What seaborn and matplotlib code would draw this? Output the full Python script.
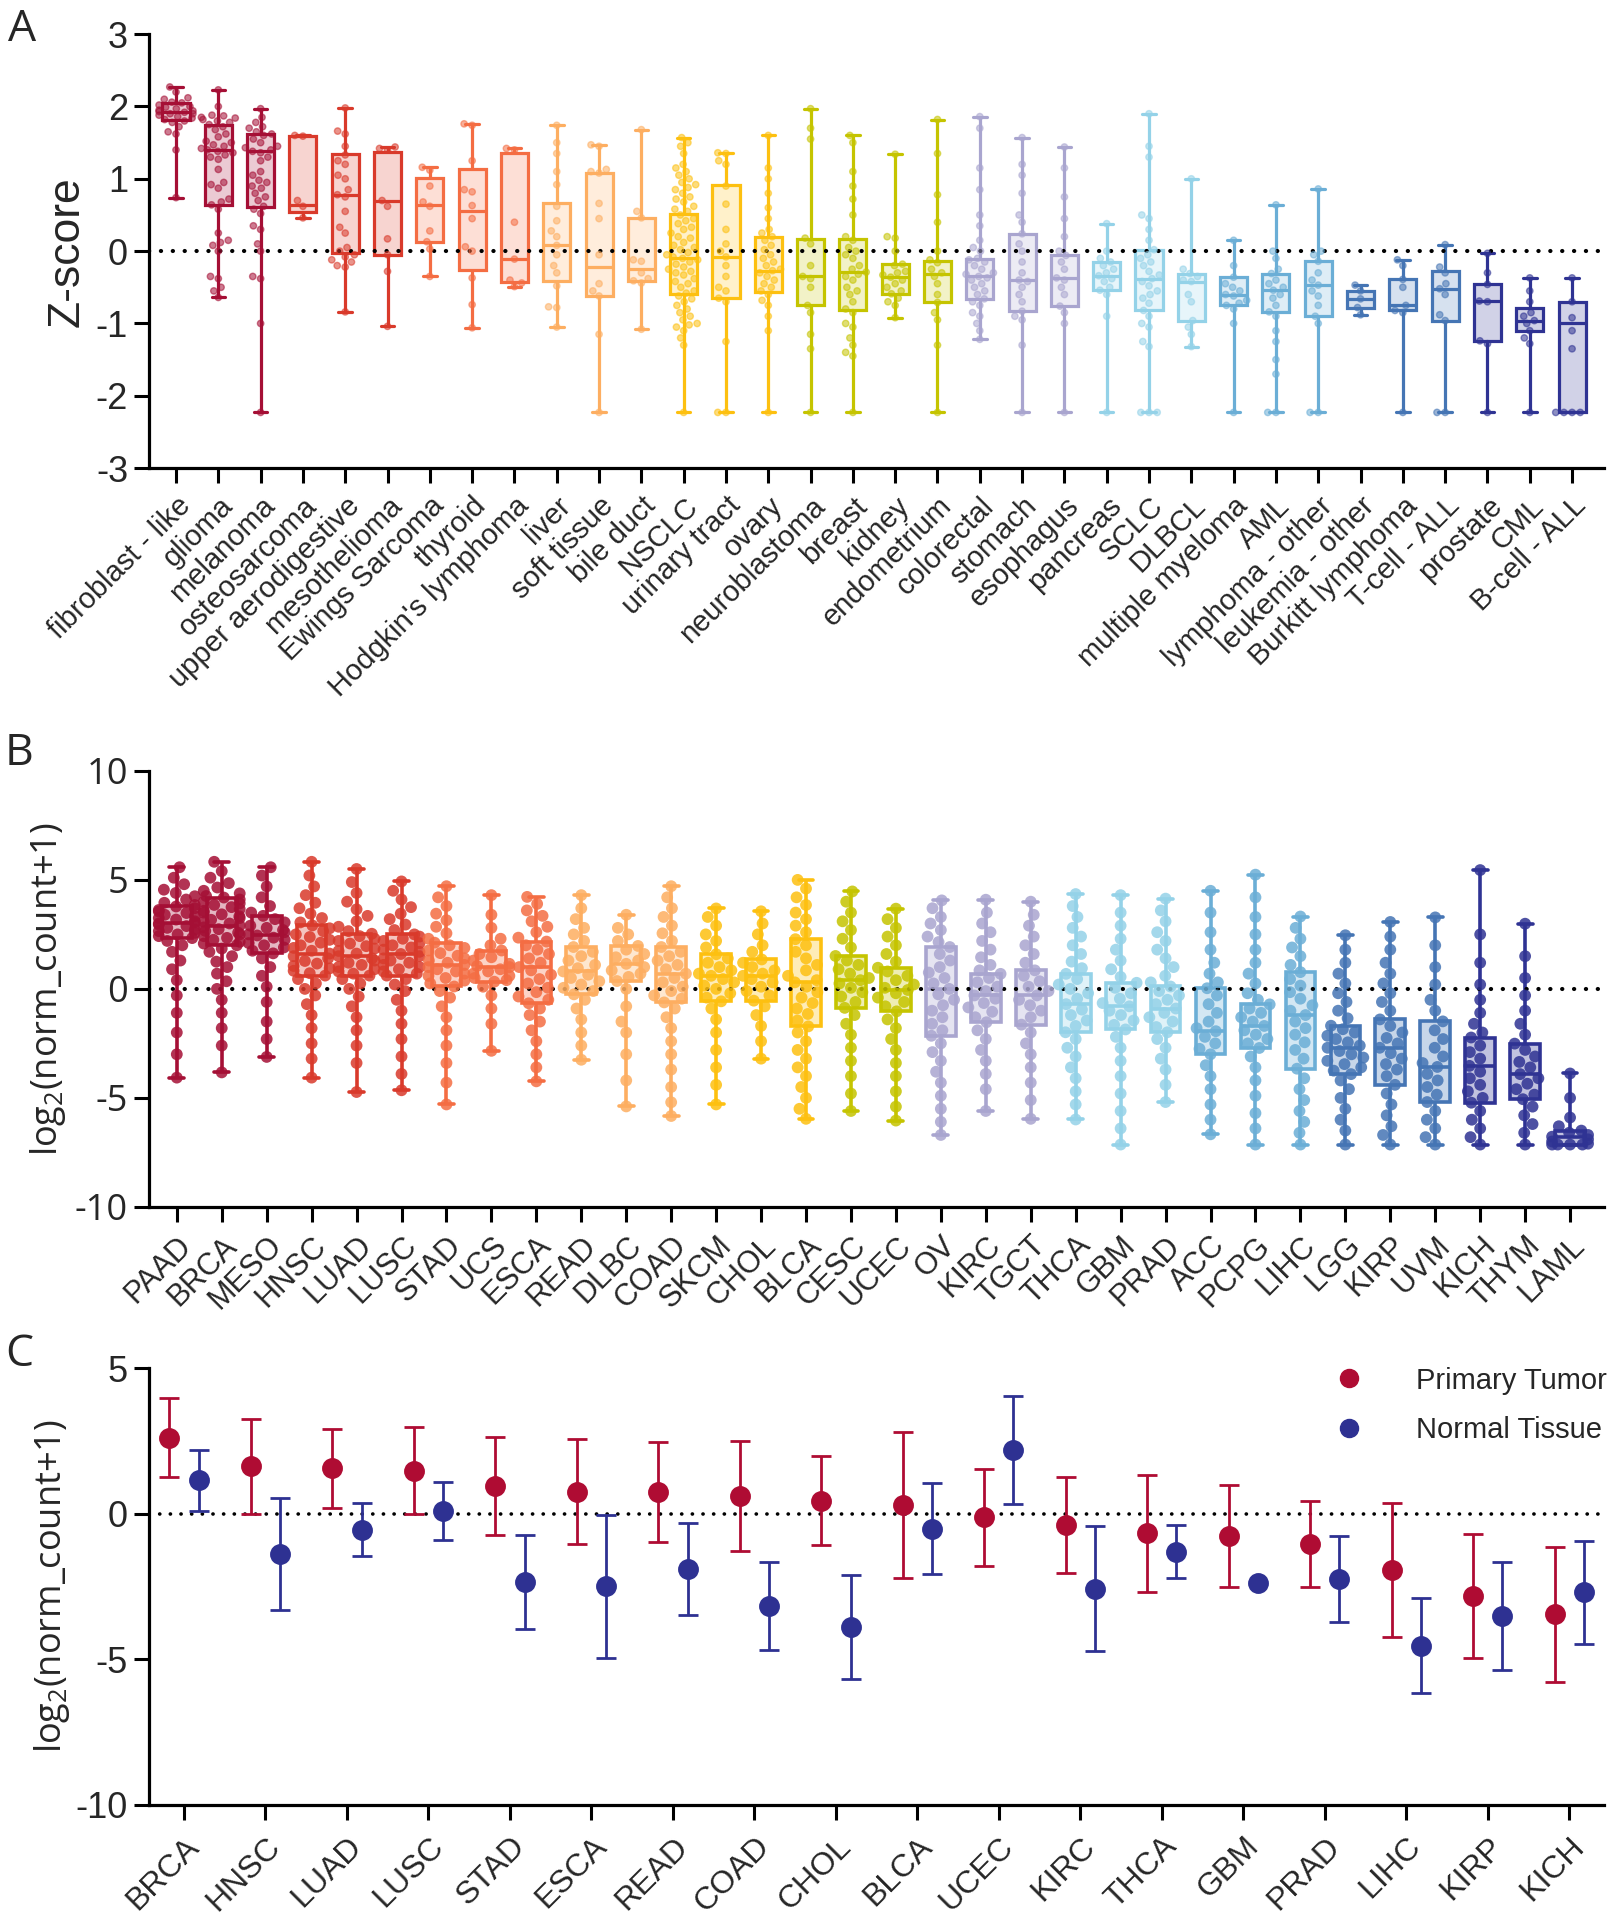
import warnings
warnings.filterwarnings("ignore")
import numpy as np
import pandas as pd
import matplotlib
matplotlib.use("Agg")
import matplotlib.pyplot as plt
import seaborn as sns
from matplotlib.colors import to_rgb
from matplotlib.lines import Line2D

sns.set_theme(style="white")
plt.rcParams['font.family'] = ['Liberation Sans', 'DejaVu Sans']
plt.rcParams['axes.unicode_minus'] = False
plt.rcParams['mathtext.fontset'] = 'custom'
plt.rcParams['mathtext.rm'] = 'Open Sans'
plt.rcParams['mathtext.it'] = 'Open Sans:italic'

# ---------------- Panel A data ----------------
A_cats = ["fibroblast - like", "glioma", "melanoma", "osteosarcoma", "upper aerodigestive",
          "mesothelioma", "Ewings Sarcoma", "thyroid", "Hodgkin's lymphoma", "liver",
          "soft tissue", "bile duct", "NSCLC", "urinary tract", "ovary", "neuroblastoma",
          "breast", "kidney", "endometrium", "colorectal", "stomach", "esophagus",
          "pancreas", "SCLC", "DLBCL", "multiple myeloma", "AML", "lymphoma - other",
          "leukemia - other", "Burkitt lymphoma", "T-cell - ALL", "prostate", "CML", "B-cell - ALL"]
A_min = [0.74, -0.64, -2.23, 0.46, -0.84, -1.04, -0.35, -1.06, -0.49, -1.05, -2.23, -1.08,
         -2.23, -2.23, -2.23, -2.23, -2.23, -0.92, -2.23, -1.22, -2.23, -2.23, -2.23, -2.23,
         -1.32, -2.23, -2.23, -2.23, -0.88, -2.23, -2.23, -2.23, -2.23, -2.23]
A_q1 = [1.82, 0.64, 0.61, 0.54, -0.03, -0.05, 0.13, -0.26, -0.43, -0.41, -0.62, -0.41,
        -0.59, -0.65, -0.56, -0.75, -0.81, -0.59, -0.71, -0.66, -0.83, -0.76, -0.54, -0.82,
        -0.96, -0.75, -0.84, -0.90, -0.78, -0.82, -0.96, -1.24, -1.11, -2.23]
A_med = [1.93, 1.40, 1.39, 0.64, 0.78, 0.70, 0.64, 0.55, -0.11, 0.08, -0.22, -0.25,
         -0.09, -0.08, -0.27, -0.35, -0.29, -0.36, -0.32, -0.35, -0.40, -0.37, -0.34, -0.38,
         -0.42, -0.60, -0.54, -0.47, -0.66, -0.75, -0.52, -0.69, -0.96, -1.00]
A_q3 = [2.05, 1.75, 1.62, 1.59, 1.34, 1.37, 1.01, 1.14, 1.36, 0.67, 1.08, 0.46,
        0.51, 0.92, 0.20, 0.17, 0.17, -0.18, -0.14, -0.11, 0.24, -0.06, -0.15, 0.02,
        -0.31, -0.36, -0.31, -0.14, -0.55, -0.39, -0.27, -0.46, -0.78, -0.71]
A_max = [2.27, 2.23, 1.97, 1.60, 1.98, 1.44, 1.16, 1.76, 1.42, 1.74, 1.47, 1.68,
         1.57, 1.36, 1.60, 1.97, 1.60, 1.34, 1.82, 1.86, 1.57, 1.44, 0.38, 1.90,
         1.00, 0.15, 0.64, 0.86, -0.47, -0.12, 0.09, -0.03, -0.37, -0.37]
A_points = [
    [2.27, 2.2, 2.12, 2.1, 2.06, 2.05, 2.02, 2.0, 1.99, 1.97, 1.95, 1.94, 1.93, 1.92, 1.9, 1.9, 1.88, 1.86, 1.84, 1.82, 1.8, 1.78, 1.72, 1.65, 1.62, 1.4, 0.74],
    [2.23, 2.0, 1.88, 1.87, 1.85, 1.84, 1.82, 1.8, 1.78, 1.75, 1.72, 1.68, 1.62, 1.58, 1.52, 1.5, 1.47, 1.45, 1.42, 1.4, 1.38, 1.36, 1.33, 1.3, 1.27, 1.13, 0.95, 0.92, 0.87, 0.72, 0.68, 0.64, 0.58, 0.25, 0.15, 0.12, 0.08, 0.0, -0.35, -0.38, -0.5, -0.55, -0.64],
    [1.97, 1.85, 1.78, 1.72, 1.7, 1.65, 1.62, 1.6, 1.55, 1.5, 1.45, 1.43, 1.4, 1.38, 1.36, 1.3, 1.25, 1.1, 1.05, 0.98, 0.95, 0.9, 0.87, 0.8, 0.75, 0.7, 0.62, 0.58, 0.52, 0.35, 0.3, 0.1, 0.0, -0.35, -0.38, -1.0, -2.23],
    [1.60, 1.59, 0.70, 0.62, 0.46],
    [1.98, 1.66, 1.62, 1.45, 1.33, 1.25, 1.2, 1.05, 1.0, 0.85, 0.78, 0.75, 0.55, 0.33, 0.25, 0.05, 0.0, -0.05, -0.08, -0.12, -0.15, -0.2, -0.22, -0.84],
    [1.44, 1.42, 1.40, 0.70, 0.62, 0.17, -0.05, -0.28, -1.04],
    [1.16, 1.12, 0.9, 0.68, 0.62, 0.28, 0.13, 0.03, -0.35],
    [1.76, 1.74, 1.25, 0.85, 0.82, 0.63, 0.45, 0.06, 0.0, -0.37, -0.74, -1.06],
    [1.42, 1.40, 0.4, -0.11, -0.4, -0.44, -0.49],
    [1.74, 1.5, 1.35, 1.1, 0.92, 0.62, 0.42, 0.28, 0.2, 0.08, -0.05, -0.2, -0.3, -0.48, -0.78, -0.77, -1.05],
    [1.47, 1.45, 1.13, 1.1, 1.08, 0.66, 0.45, -0.05, -0.45, -0.55, -0.62, -1.15, -2.23],
    [1.68, 0.55, 0.46, -0.12, -0.14, -0.3, -0.38, -0.41, -0.44, -1.08],
    [1.57, 1.5, 1.45, 1.35, 1.2, 1.15, 1.1, 1.05, 1.0, 0.95, 0.92, 0.88, 0.85, 0.8, 0.75, 0.72, 0.68, 0.62, 0.58, 0.55, 0.5, 0.45, 0.42, 0.38, 0.33, 0.3, 0.25, 0.2, 0.18, 0.12, 0.08, 0.05, 0.02, -0.02, -0.05, -0.08, -0.1, -0.12, -0.15, -0.18, -0.22, -0.25, -0.28, -0.3, -0.33, -0.38, -0.42, -0.45, -0.5, -0.55, -0.58, -0.62, -0.66, -0.7, -0.75, -0.8, -0.85, -0.9, -0.95, -1.0, -1.02, -1.05, -1.1, -1.2, -1.3, -2.23],
    [1.36, 1.35, 1.25, 1.2, 0.9, 0.65, 0.3, 0.1, 0.0, -0.08, -0.2, -0.35, -0.5, -0.55, -0.65, -0.7, -1.25, -2.23, -2.23],
    [1.6, 1.15, 1.0, 0.8, 0.6, 0.45, 0.3, 0.25, 0.2, 0.15, 0.08, 0.02, -0.05, -0.1, -0.15, -0.2, -0.25, -0.27, -0.3, -0.35, -0.4, -0.45, -0.5, -0.55, -0.6, -0.68, -0.75, -0.9, -1.1, -2.23],
    [1.97, 1.7, 1.55, 0.18, 0.1, -0.2, -0.35, -0.38, -0.5, -0.75, -0.85, -1.15, -1.35, -2.23],
    [1.6, 1.5, 1.1, 0.9, 0.72, 0.5, 0.2, 0.15, 0.05, 0.0, -0.05, -0.1, -0.2, -0.25, -0.29, -0.32, -0.35, -0.4, -0.5, -0.55, -0.6, -0.7, -0.8, -0.85, -1.0, -1.05, -1.2, -1.3, -1.4, -1.45, -2.23],
    [1.34, 0.2, 0.18, 0.0, -0.18, -0.2, -0.28, -0.3, -0.33, -0.36, -0.4, -0.45, -0.5, -0.55, -0.59, -0.65, -0.7, -0.75, -0.92],
    [1.82, 1.35, 0.78, 0.4, 0.0, -0.12, -0.16, -0.25, -0.3, -0.35, -0.45, -0.6, -0.71, -0.85, -0.95, -1.3, -2.23],
    [1.86, 1.7, 1.15, 0.85, 0.5, 0.35, 0.15, 0.05, 0.0, -0.1, -0.12, -0.15, -0.2, -0.25, -0.3, -0.32, -0.35, -0.37, -0.4, -0.45, -0.5, -0.55, -0.6, -0.66, -0.7, -0.75, -0.85, -0.9, -1.0, -1.1, -1.22],
    [1.57, 1.2, 1.05, 0.8, 0.5, 0.4, 0.24, 0.1, 0.0, -0.15, -0.3, -0.4, -0.42, -0.5, -0.6, -0.7, -0.83, -0.9, -0.95, -1.3, -2.23],
    [1.44, 1.15, 0.75, 0.45, 0.2, 0.0, -0.06, -0.15, -0.25, -0.37, -0.4, -0.5, -0.6, -0.76, -0.85, -1.0, -2.23],
    [0.38, 0.0, -0.1, -0.15, -0.2, -0.25, -0.3, -0.34, -0.38, -0.42, -0.5, -0.54, -0.6, -0.9, -2.23],
    [1.9, 1.45, 1.3, 0.5, 0.45, 0.3, 0.15, 0.02, -0.05, -0.1, -0.15, -0.2, -0.28, -0.33, -0.38, -0.42, -0.48, -0.55, -0.6, -0.65, -0.72, -0.82, -0.9, -1.0, -1.05, -1.25, -1.32, -2.23, -2.23, -2.23],
    [1.0, -0.25, -0.31, -0.35, -0.4, -0.42, -0.6, -0.7, -0.96, -1.05, -1.15, -1.32],
    [0.15, -0.2, -0.36, -0.45, -0.5, -0.55, -0.6, -0.62, -0.68, -0.72, -0.75, -0.8, -1.0, -2.23],
    [0.64, 0.0, -0.1, -0.25, -0.31, -0.4, -0.45, -0.5, -0.54, -0.6, -0.65, -0.75, -0.84, -0.9, -1.1, -1.25, -1.5, -1.7, -2.23, -2.23],
    [0.86, 0.0, -0.05, -0.14, -0.3, -0.4, -0.47, -0.55, -0.62, -0.75, -0.9, -1.0, -2.23, -2.23],
    [-0.47, -0.55, -0.66, -0.78, -0.88],
    [-0.12, -0.2, -0.39, -0.5, -0.75, -0.82, -0.85, -2.23],
    [0.09, -0.22, -0.3, -0.45, -0.52, -0.6, -0.88, -0.96, -2.23, -2.23],
    [-0.03, -0.3, -0.46, -0.69, -0.7, -1.24, -1.28, -2.23],
    [-0.37, -0.55, -0.7, -0.85, -0.9, -0.96, -1.0, -1.1, -1.2, -1.28, -2.23],
    [-0.37, -0.7, -0.92, -1.1, -1.35, -2.23, -2.23, -2.23, -2.23],
]

# ---------------- Panel B data ----------------
B_cats = ["PAAD", "BRCA", "MESO", "HNSC", "LUAD", "LUSC", "STAD", "UCS", "ESCA", "READ",
          "DLBC", "COAD", "SKCM", "CHOL", "BLCA", "CESC", "UCEC", "OV", "KIRC", "TGCT",
          "THCA", "GBM", "PRAD", "ACC", "PCPG", "LIHC", "LGG", "KIRP", "UVM", "KICH", "THYM", "LAML"]
B_min = [-4.07, -3.83, -3.12, -4.07, -4.73, -4.65, -5.30, -2.84, -4.24, -3.25, -5.39, -5.83,
         -5.30, -3.20, -5.96, -5.60, -6.04, -6.70, -5.60, -5.96, -5.99, -7.14, -5.19, -6.67,
         -7.14, -7.14, -7.14, -7.14, -7.14, -7.14, -7.14, -7.14]
B_q1 = [2.33, 2.00, 1.63, 0.61, 0.61, 0.61, 0.11, 0.33, -0.66, -0.25, 0.36, -0.62,
        -0.57, -0.54, -1.72, -0.87, -1.03, -2.15, -1.53, -1.64, -1.99, -1.86, -1.99, -3.00,
        -2.71, -3.66, -3.91, -4.40, -5.19, -5.22, -5.06, -7.14]
B_med = [3.00, 2.90, 2.45, 1.60, 1.50, 1.60, 1.10, 1.00, 1.00, 0.80, 1.15, 0.70,
         0.60, 0.60, 0.30, 0.40, -0.05, 0.00, -0.30, -0.30, -0.70, -0.80, -0.90, -1.94,
         -1.70, -1.20, -2.70, -2.70, -3.58, -3.53, -3.91, -6.78]
B_q3 = [3.78, 4.19, 3.35, 2.91, 2.53, 2.50, 2.12, 1.76, 2.17, 1.92, 1.97, 1.92,
        1.59, 1.35, 2.28, 1.51, 0.97, 1.92, 0.69, 0.85, 0.69, 0.28, 0.11, 0.03,
        -0.71, 0.77, -1.69, -1.40, -1.49, -2.23, -2.51, -6.50]
B_max = [5.58, 5.83, 5.58, 5.83, 5.50, 4.93, 4.71, 4.30, 4.22, 4.30, 3.40, 4.71,
         3.69, 3.56, 5.00, 4.47, 3.68, 4.06, 4.09, 4.00, 4.35, 4.30, 4.14, 4.50,
         5.24, 3.32, 2.46, 3.07, 3.28, 5.45, 2.99, -3.88]
B_points = [
    [5.58, 5.1, 4.8, 4.55, 4.4, 4.25, 4.1, 3.95, 3.85, 3.78, 3.7, 3.62, 3.55, 3.48, 3.4, 3.33, 3.25, 3.18, 3.1, 3.04, 3.0, 2.95, 2.88, 2.8, 2.72, 2.65, 2.57, 2.5, 2.42, 2.33, 2.2, 2.0, 1.7, 1.3, 0.9, 0.4, -0.3, -1.1, -2.0, -3.0, -4.07],
    [5.83, 5.4, 5.1, 4.85, 4.65, 4.5, 4.38, 4.26, 4.19, 4.1, 4.0, 3.92, 3.85, 3.75, 3.66, 3.58, 3.5, 3.42, 3.33, 3.25, 3.17, 3.08, 3.0, 2.9, 2.82, 2.74, 2.66, 2.58, 2.5, 2.42, 2.34, 2.25, 2.16, 2.08, 2.0, 1.85, 1.7, 1.5, 1.25, 1.0, 0.7, 0.35, 0.0, -0.5, -1.1, -1.8, -2.6, -3.83],
    [5.58, 5.2, 4.7, 4.2, 3.8, 3.5, 3.35, 3.2, 3.05, 2.9, 2.8, 2.7, 2.6, 2.5, 2.45, 2.35, 2.25, 2.1, 2.0, 1.9, 1.75, 1.63, 1.4, 1.0, 0.6, 0.1, -0.6, -1.5, -2.3, -3.12],
    [5.83, 5.2, 4.7, 4.3, 3.95, 3.7, 3.45, 3.25, 3.05, 2.91, 2.78, 2.65, 2.5, 2.38, 2.25, 2.12, 2.0, 1.88, 1.75, 1.62, 1.5, 1.4, 1.28, 1.16, 1.05, 0.94, 0.83, 0.72, 0.61, 0.45, 0.25, 0.0, -0.3, -0.7, -1.2, -1.8, -2.5, -3.2, -4.07],
    [5.5, 4.9, 4.4, 4.0, 3.65, 3.35, 3.1, 2.85, 2.65, 2.53, 2.42, 2.3, 2.2, 2.08, 1.96, 1.85, 1.74, 1.62, 1.5, 1.4, 1.3, 1.2, 1.1, 1.0, 0.9, 0.8, 0.7, 0.61, 0.45, 0.25, 0.0, -0.35, -0.8, -1.3, -1.9, -2.6, -3.4, -4.73],
    [4.93, 4.5, 4.1, 3.75, 3.45, 3.2, 2.95, 2.7, 2.5, 2.4, 2.3, 2.2, 2.1, 2.0, 1.9, 1.8, 1.7, 1.6, 1.5, 1.4, 1.3, 1.2, 1.1, 1.0, 0.9, 0.8, 0.7, 0.61, 0.45, 0.2, -0.1, -0.5, -1.0, -1.6, -2.3, -3.1, -3.9, -4.65],
    [4.71, 4.2, 3.8, 3.45, 3.15, 2.85, 2.55, 2.3, 2.12, 2.0, 1.88, 1.76, 1.64, 1.52, 1.4, 1.3, 1.2, 1.1, 1.0, 0.9, 0.8, 0.7, 0.6, 0.5, 0.38, 0.25, 0.11, -0.1, -0.4, -0.8, -1.3, -1.9, -2.6, -3.4, -4.3, -5.3],
    [4.3, 3.4, 2.8, 2.3, 2.0, 1.76, 1.6, 1.45, 1.3, 1.15, 1.05, 1.0, 0.9, 0.8, 0.7, 0.6, 0.5, 0.4, 0.33, 0.1, -0.3, -0.9, -1.6, -2.84],
    [4.22, 3.9, 3.6, 3.35, 3.1, 2.85, 2.6, 2.35, 2.17, 2.0, 1.8, 1.6, 1.4, 1.2, 1.0, 0.85, 0.65, 0.45, 0.25, 0.05, -0.15, -0.35, -0.5, -0.66, -0.9, -1.2, -1.5, -1.9, -2.4, -3.0, -3.6, -4.24],
    [4.3, 3.7, 3.2, 2.8, 2.5, 2.2, 1.92, 1.7, 1.5, 1.3, 1.1, 0.95, 0.8, 0.65, 0.5, 0.35, 0.2, 0.05, -0.1, -0.25, -0.5, -0.9, -1.4, -2.0, -2.6, -3.25],
    [3.4, 2.8, 2.5, 2.2, 1.97, 1.8, 1.6, 1.45, 1.3, 1.15, 1.0, 0.85, 0.7, 0.55, 0.36, 0.0, -0.8, -1.5, -2.0, -3.0, -4.2, -5.39],
    [4.71, 4.2, 3.7, 3.3, 2.9, 2.55, 2.2, 1.92, 1.7, 1.5, 1.3, 1.1, 0.9, 0.7, 0.5, 0.3, 0.1, -0.1, -0.3, -0.45, -0.62, -0.9, -1.3, -1.8, -2.4, -3.0, -3.7, -4.5, -5.2, -5.83],
    [3.69, 3.3, 2.9, 2.5, 2.2, 1.9, 1.59, 1.4, 1.2, 1.0, 0.85, 0.7, 0.6, 0.45, 0.3, 0.15, 0.0, -0.2, -0.4, -0.57, -0.9, -1.4, -2.0, -2.8, -3.6, -4.4, -5.3],
    [3.56, 3.0, 2.5, 2.0, 1.7, 1.35, 1.2, 1.0, 0.85, 0.7, 0.6, 0.45, 0.3, 0.1, -0.1, -0.3, -0.54, -0.8, -1.2, -1.7, -2.4, -3.2],
    [5.0, 4.6, 4.2, 3.85, 3.5, 3.2, 2.9, 2.6, 2.28, 2.0, 1.7, 1.4, 1.1, 0.85, 0.6, 0.4, 0.3, 0.1, -0.15, -0.4, -0.65, -0.9, -1.15, -1.45, -1.72, -2.0, -2.4, -2.8, -3.2, -3.6, -4.0, -4.5, -5.0, -5.5, -5.96],
    [4.47, 4.0, 3.5, 3.1, 2.7, 2.3, 1.9, 1.51, 1.3, 1.1, 0.9, 0.7, 0.5, 0.4, 0.25, 0.05, -0.15, -0.35, -0.6, -0.87, -1.2, -1.6, -2.1, -2.7, -3.3, -4.0, -4.8, -5.6],
    [3.68, 3.2, 2.8, 2.4, 2.0, 1.6, 1.25, 0.97, 0.8, 0.6, 0.4, 0.2, 0.05, -0.05, -0.2, -0.4, -0.6, -0.8, -1.03, -1.4, -1.8, -2.3, -2.8, -3.4, -4.0, -4.7, -5.4, -6.04],
    [4.06, 3.7, 3.3, 3.0, 2.7, 2.4, 2.15, 1.92, 1.6, 1.3, 1.0, 0.75, 0.5, 0.25, 0.0, -0.25, -0.5, -0.75, -1.0, -1.3, -1.6, -1.9, -2.15, -2.5, -2.9, -3.3, -3.8, -4.3, -4.9, -5.5, -6.1, -6.7],
    [4.09, 3.5, 3.0, 2.6, 2.2, 1.8, 1.45, 1.1, 0.85, 0.69, 0.5, 0.3, 0.1, -0.1, -0.3, -0.45, -0.65, -0.85, -1.05, -1.3, -1.53, -1.9, -2.3, -2.8, -3.3, -3.9, -4.6, -5.6],
    [4.0, 3.4, 2.9, 2.4, 2.0, 1.6, 1.2, 0.85, 0.6, 0.35, 0.1, -0.1, -0.3, -0.5, -0.75, -1.0, -1.3, -1.64, -2.0, -2.5, -3.0, -3.6, -4.3, -5.1, -5.96],
    [4.35, 3.8, 3.3, 2.8, 2.4, 2.0, 1.6, 1.25, 0.95, 0.69, 0.45, 0.2, 0.0, -0.2, -0.45, -0.7, -0.95, -1.2, -1.45, -1.7, -1.99, -2.3, -2.7, -3.1, -3.6, -4.1, -4.7, -5.3, -5.99],
    [4.3, 3.5, 2.9, 2.3, 1.8, 1.3, 0.9, 0.55, 0.28, 0.05, -0.2, -0.45, -0.65, -0.8, -1.0, -1.2, -1.45, -1.65, -1.86, -2.2, -2.7, -3.3, -4.0, -4.8, -5.6, -6.4, -7.14],
    [4.14, 3.6, 3.1, 2.6, 2.2, 1.8, 1.4, 1.0, 0.6, 0.3, 0.11, -0.1, -0.3, -0.5, -0.7, -0.9, -1.1, -1.3, -1.5, -1.75, -1.99, -2.3, -2.7, -3.2, -3.7, -4.4, -5.19],
    [4.5, 3.5, 2.6, 1.8, 1.2, 0.7, 0.3, 0.03, -0.3, -0.7, -1.1, -1.5, -1.8, -1.94, -2.2, -2.5, -2.75, -3.0, -3.5, -4.0, -4.6, -5.3, -6.0, -6.67],
    [5.24, 4.2, 3.3, 2.5, 1.8, 1.2, 0.7, 0.25, -0.2, -0.5, -0.71, -0.9, -1.1, -1.3, -1.5, -1.7, -1.9, -2.1, -2.3, -2.5, -2.71, -3.1, -3.6, -4.2, -4.9, -5.7, -6.4, -7.14],
    [3.32, 2.8, 2.3, 1.9, 1.5, 1.1, 0.77, 0.45, 0.15, -0.15, -0.45, -0.75, -1.0, -1.2, -1.5, -1.8, -2.1, -2.45, -2.8, -3.2, -3.66, -4.1, -4.6, -5.1, -5.6, -6.1, -6.6, -7.14],
    [2.46, 1.8, 1.2, 0.7, 0.25, -0.2, -0.6, -1.0, -1.35, -1.69, -1.85, -2.0, -2.15, -2.3, -2.45, -2.6, -2.7, -2.85, -3.0, -3.15, -3.3, -3.45, -3.6, -3.75, -3.91, -4.2, -4.6, -5.0, -5.5, -6.0, -6.5, -7.14],
    [3.07, 2.4, 1.8, 1.2, 0.7, 0.25, -0.2, -0.6, -1.0, -1.4, -1.7, -2.0, -2.25, -2.5, -2.7, -2.95, -3.2, -3.45, -3.7, -4.0, -4.4, -4.8, -5.3, -5.8, -6.3, -6.7, -7.14],
    [3.28, 2.0, 1.0, 0.2, -0.5, -1.0, -1.49, -1.9, -2.3, -2.7, -3.1, -3.4, -3.58, -3.9, -4.2, -4.5, -4.85, -5.19, -5.6, -6.0, -6.4, -6.8, -7.14],
    [5.45, 2.5, 1.2, 0.2, -0.5, -1.1, -1.6, -2.0, -2.23, -2.6, -2.9, -3.2, -3.53, -3.8, -4.1, -4.4, -4.7, -5.0, -5.22, -5.6, -6.0, -6.4, -6.8, -7.14],
    [2.99, 1.5, 0.5, -0.3, -1.0, -1.6, -2.1, -2.51, -2.8, -3.1, -3.35, -3.6, -3.91, -4.1, -4.35, -4.6, -4.85, -5.06, -5.4, -5.8, -6.2, -6.6, -7.14],
    [-3.88, -5.0, -5.9, -6.3, -6.5, -6.6, -6.7, -6.78, -6.9, -7.0, -7.1, -7.14, -7.14, -7.14, -7.14],
]

# ---------------- Panel C data ----------------
C_cats = ["BRCA", "HNSC", "LUAD", "LUSC", "STAD", "ESCA", "READ", "COAD", "CHOL", "BLCA",
          "UCEC", "KIRC", "THCA", "GBM", "PRAD", "LIHC", "KIRP", "KICH"]
C_groups = ["Primary Tumor", "Normal Tissue"]
C_tumor_mean = [2.61, 1.62, 1.56, 1.48, 0.95, 0.75, 0.75, 0.62, 0.45, 0.30, -0.13, -0.39,
                -0.68, -0.77, -1.03, -1.93, -2.83, -3.46]
C_tumor_sd = [1.35, 1.63, 1.35, 1.50, 1.67, 1.80, 1.72, 1.89, 1.52, 2.52, 1.65, 1.65,
              2.00, 1.75, 1.48, 2.29, 2.13, 2.31]
C_normal_mean = [1.15, -1.39, -0.55, 0.08, -2.34, -2.50, -1.90, -3.17, -3.90, -0.51, 2.19, -2.57,
                 -1.30, -2.38, -2.25, -4.53, -3.51, -2.70]
C_normal_sd = [1.05, 1.93, 0.90, 1.00, 1.62, 2.45, 1.59, 1.50, 1.79, 1.57, 1.85, 2.14,
               0.90, np.nan, 1.47, 1.64, 1.86, 1.77]

# ---------------- colours ----------------
PAL = ["#A50F35", "#D93A2B", "#F46D43", "#FDAE61", "#FDC010", "#C5C400",
       "#A9A5CF", "#94D2E8", "#6BAED6", "#4575B4", "#2F3393"]
A_grp = [0, 0, 0, 1, 1, 1, 2, 2, 2, 3, 3, 3, 4, 4, 4, 5, 5, 5, 5, 6, 6, 6, 7, 7, 7,
         8, 8, 8, 9, 9, 9, 10, 10, 10]
B_grp = [0, 0, 0, 1, 1, 1, 2, 2, 2, 3, 3, 3, 4, 4, 4, 5, 5, 6, 6, 6, 7, 7, 7,
         8, 8, 8, 9, 9, 9, 10, 10, 10]
A_colors = [PAL[g] for g in A_grp]
B_colors = [PAL[g] for g in B_grp]
RED = "#AF0C33"
BLUE = "#2E3192"


def tint(c, f=0.22):
    r = np.array(to_rgb(c))
    return tuple(1 - f * (1 - r))


def draw_boxes(ax, cats, mins, q1s, meds, q3s, maxs, colors, width, lw, f):
    rows = []
    for name, a, b, m, d, e in zip(cats, mins, q1s, meds, q3s, maxs):
        for v in (a, b, m, d, e):
            rows.append((name, v))
    df = pd.DataFrame(rows, columns=["cat", "val"])
    for name, col in zip(cats, colors):
        sns.boxplot(data=df[df["cat"] == name], x="cat", y="val", order=cats,
                    color=tint(col, f), linecolor=col, linewidth=lw, width=width,
                    whis=(0, 100), saturation=1, showfliers=False, ax=ax)


def draw_points(ax, cats, pts, colors, size, alpha, lw):
    rows = []
    for name, vals in zip(cats, pts):
        for v in vals:
            rows.append((name, v))
    df = pd.DataFrame(rows, columns=["cat", "val"])
    sns.swarmplot(data=df, x="cat", y="val", order=cats, hue="cat", hue_order=cats,
                  palette=colors, size=size, alpha=alpha, linewidth=lw,
                  edgecolor="face", legend=False, ax=ax, zorder=4)


def style_axis(ax):
    sns.despine(ax=ax)
    for s in ("left", "bottom"):
        ax.spines[s].set_linewidth(2.3)
        ax.spines[s].set_color("black")
    ax.tick_params(axis="both", which="major", direction="out", length=11, width=2.2,
                   color="black", left=True, bottom=True)
    ax.set_xlabel("")


fig = plt.figure(figsize=(16.17, 19.2), dpi=100)

# ---------------- Panel A ----------------
axA = fig.add_axes([0.0921, 0.7562, 0.900, 0.226])
draw_boxes(axA, A_cats, A_min, A_q1, A_med, A_q3, A_max, A_colors, 0.64, 2.3, 0.22)
draw_points(axA, A_cats, A_points, A_colors, 4.6, 0.55, 1.0)
axA.axhline(0, color="black", lw=3.0, linestyle=(0, (0.05, 2.8)), dash_capstyle="round", zorder=3)
axA.set_ylim(-3, 3)
axA.set_xlim(-0.64, 33.76)
axA.set_yticks([-3, -2, -1, 0, 1, 2, 3])
style_axis(axA)
axA.set_xticks(range(len(A_cats)))
axA.set_xticklabels(A_cats, rotation=45, ha="right", rotation_mode="anchor", fontsize=21)
axA.tick_params(axis="y", labelsize=26, pad=4)
axA.tick_params(axis="x", pad=6)
axA.set_ylabel("Z-score", fontsize=32, labelpad=6)

# ---------------- Panel B ----------------
axB = fig.add_axes([0.0921, 0.3714, 0.900, 0.2271])
draw_boxes(axB, B_cats, B_min, B_q1, B_med, B_q3, B_max, B_colors, 0.66, 2.6, 0.3)
draw_points(axB, B_cats, B_points, B_colors, 8.5, 0.85, 0.0)
axB.axhline(0, color="black", lw=3.0, linestyle=(0, (0.05, 2.8)), dash_capstyle="round", zorder=3)
axB.set_ylim(-10, 10)
axB.set_xlim(-0.62, 31.76)
axB.set_yticks([-10, -5, 0, 5, 10])
style_axis(axB)
axB.set_xticks(range(len(B_cats)))
axB.set_xticklabels(B_cats, rotation=45, ha="right", rotation_mode="anchor", fontsize=22)
axB.tick_params(axis="y", labelsize=26, pad=4)
axB.tick_params(axis="x", pad=6)
for t in axB.get_yticklabels():
    t.set_fontfamily("Open Sans")
axB.set_ylabel(r"log$_{2}$(norm_count+1)", fontsize=26, family="Open Sans", labelpad=5)

# ---------------- Panel C ----------------
axC = fig.add_axes([0.0921, 0.0599, 0.900, 0.2276])
rows = []
for name, m1, m2 in zip(C_cats, C_tumor_mean, C_normal_mean):
    rows.append((name, C_groups[0], m1))
    rows.append((name, C_groups[1], m2))
cdf = pd.DataFrame(rows, columns=["cat", "grp", "val"])
sns.pointplot(data=cdf, x="cat", y="val", hue="grp", order=C_cats, hue_order=C_groups,
              palette=[RED, BLUE], dodge=0.36, errorbar=None, linestyle="none",
              markers="o", markersize=13, legend=False, ax=axC, zorder=4)
xs = np.arange(len(C_cats))
axC.errorbar(xs - 0.18, C_tumor_mean, yerr=C_tumor_sd, fmt="none", ecolor=RED,
             elinewidth=2.0, capsize=7, capthick=2.0, zorder=3)
axC.errorbar(xs + 0.18, C_normal_mean, yerr=C_normal_sd, fmt="none", ecolor=BLUE,
             elinewidth=2.0, capsize=7, capthick=2.0, zorder=3)
axC.axhline(0, color="black", lw=2.6, linestyle=(0, (0.05, 2.9)), dash_capstyle="round", zorder=2)
axC.set_ylim(-10, 5)
axC.set_xlim(-0.43, 17.43)
axC.set_yticks([-10, -5, 0, 5])
style_axis(axC)
axC.set_xticks(xs)
axC.set_xticklabels(C_cats, rotation=45, ha="right", rotation_mode="anchor", fontsize=23)
axC.tick_params(axis="y", labelsize=26, pad=4)
axC.tick_params(axis="x", pad=8)
axC.set_ylabel(r"log$_{2}$(norm_count+1)", fontsize=26, family="Open Sans", labelpad=3)
handles = [Line2D([], [], marker="o", linestyle="none", color=RED, markersize=13),
           Line2D([], [], marker="o", linestyle="none", color=BLUE, markersize=13)]
axC.legend(handles, C_groups, frameon=False, loc="upper right", bbox_to_anchor=(1.01, 1.03),
           fontsize=21, handletextpad=1.3, labelspacing=0.75, borderaxespad=0)

# panel letters
fig.text(0.005, 0.996, "A", fontsize=32, va="top", ha="left", family="Open Sans")
fig.text(0.003, 0.619, "B", fontsize=32, va="top", ha="left", family="Open Sans")
fig.text(0.003, 0.306, "C", fontsize=32, va="top", ha="left", family="Open Sans")

fig.savefig("out.png", dpi=100)
